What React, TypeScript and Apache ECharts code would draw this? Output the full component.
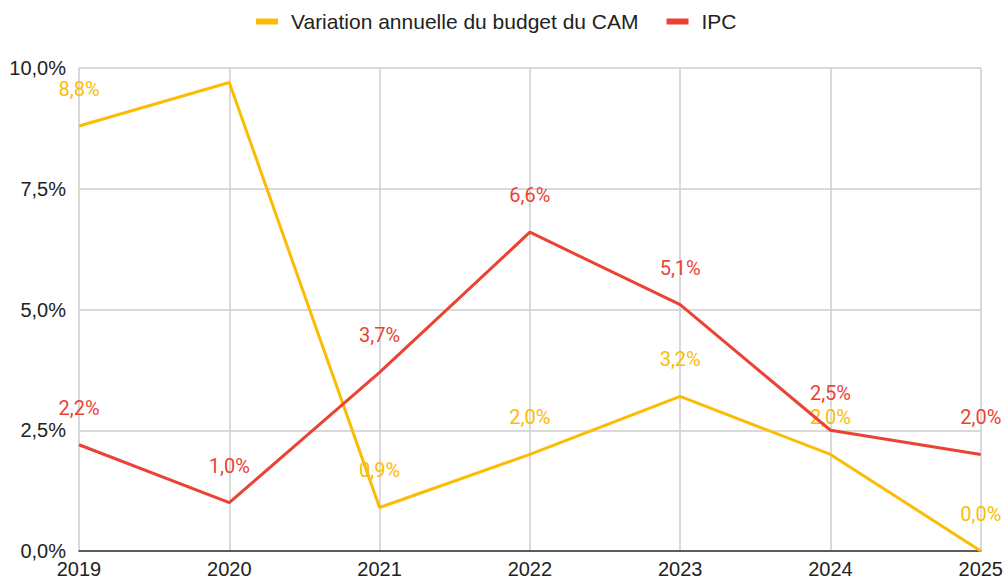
import React, { useEffect, useRef } from "react";
import * as echarts from "echarts";

const years = ["2019", "2020", "2021", "2022", "2023", "2024", "2025"];
const budgetValues = [8.8, 9.7, 0.9, 2.0, 3.2, 2.0, 0.0];
const ipcValues = [2.2, 1.0, 3.7, 6.6, 5.1, 2.5, 2.0];
const hiddenBudgetLabels = ["2020"];
const seriesNames = ["Variation annuelle du budget du CAM", "IPC"];

const fmt = (v: number) => v.toFixed(1).replace(".", ",") + "%";

export default function App() {
  const ref = useRef<HTMLDivElement>(null);
  useEffect(() => {
    const chart = echarts.init(ref.current!, null, { renderer: "svg" });
    const font = "Roboto";
    const axisFont = "'Liberation Sans', Arial, sans-serif";
    const fs = 20;
    chart.setOption({
      animation: false,
      textStyle: { fontFamily: font },
      legend: {
        top: 6,
        left: 251,
        itemWidth: 22,
        itemHeight: 6,
        itemGap: 28,
        icon: "rect",
        textStyle: { fontSize: 21, color: "#222", fontFamily: axisFont, padding: [0, 0, 0, 8] },
        data: seriesNames,
      },
      grid: { left: 79, right: 23, top: 68, bottom: 32, containLabel: false },
      xAxis: {
        type: "category",
        data: years,
        boundaryGap: false,
        axisLine: { lineStyle: { color: "#333", width: 1.5 } },
        axisTick: { show: false },
        axisLabel: { fontSize: fs, color: "#222", margin: 8, fontFamily: axisFont },
        splitLine: { show: true, lineStyle: { color: "#ccc", width: 1.5 } },
      },
      yAxis: {
        type: "value",
        min: 0,
        max: 10,
        interval: 2.5,
        axisLine: { show: false },
        axisTick: { show: false },
        axisLabel: {
          fontSize: fs,
          color: "#222",
          margin: 13,
          fontFamily: axisFont,
          formatter: (v: number) => fmt(v),
        },
        splitLine: { lineStyle: { color: "#ccc", width: 1.5 } },
      },
      series: [
        {
          name: seriesNames[0],
          type: "line",
          data: budgetValues.map((v, i) => ({
            value: v,
            label: { show: !hiddenBudgetLabels.includes(years[i]) },
          })),
          symbol: "circle",
          symbolSize: 0.1,
          showSymbol: true,
          color: "#fbbc04",
          lineStyle: { width: 3, color: "#fbbc04" },
          label: {
            show: true,
            position: "top",
            distance: 27,
            fontSize: fs,
            color: "#fbbc04",
            fontFamily: font,
            formatter: (p: any) => fmt(p.value),
          },
          z: 2,
        },
        {
          name: seriesNames[1],
          type: "line",
          data: ipcValues,
          symbol: "circle",
          symbolSize: 0.1,
          showSymbol: true,
          color: "#ea4335",
          lineStyle: { width: 3, color: "#ea4335" },
          label: {
            show: true,
            position: "top",
            distance: 27,
            fontSize: fs,
            color: "#ea4335",
            fontFamily: font,
            formatter: (p: any) => fmt(p.value),
          },
          z: 3,
        },
      ],
    });
    return () => chart.dispose();
  }, []);
  return (
    <div
      ref={ref}
      style={{ position: "fixed", left: 0, top: 0, width: 1006, height: 583, background: "#fff" }}
    />
  );
}
